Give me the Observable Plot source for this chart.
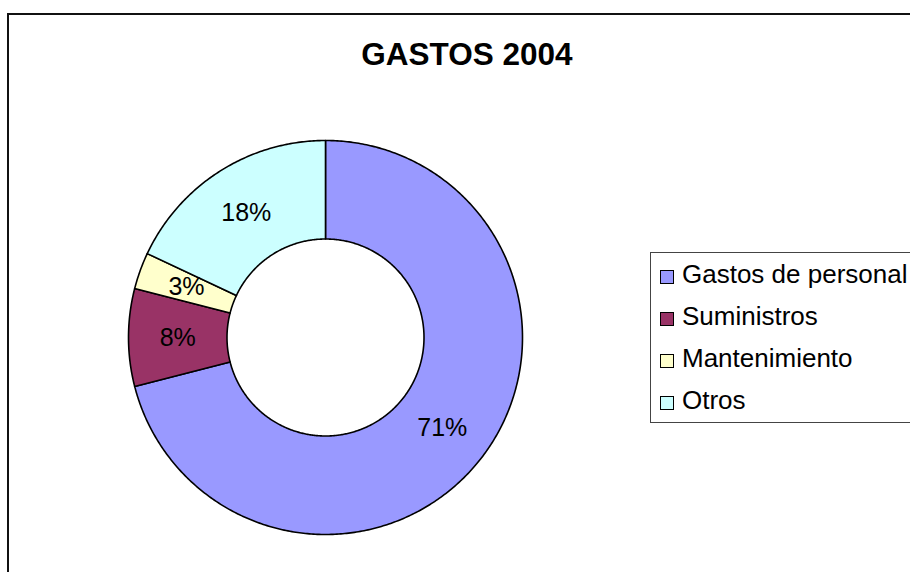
<!DOCTYPE html>
<html>
<head>
<meta charset="utf-8">
<script src="https://cdn.jsdelivr.net/npm/d3@7"></script>
<script src="https://cdn.jsdelivr.net/npm/@observablehq/plot@0.6"></script>
<style>
  html, body { margin: 0; padding: 0; background: #fff; }
  #wrap { position: relative; width: 910px; height: 572px; overflow: hidden; font-family: "Liberation Sans", Arial, sans-serif; }
  #frame { position: absolute; left: 7px; top: 13px; width: 1000px; height: 700px; border: 2px solid #111; box-sizing: border-box; }
  #title { position: absolute; left: 0; top: 39px; width: 934px; text-align: center; font-size: 31.5px; line-height: 31px; font-weight: bold; color: #000; }
  #chart { position: absolute; left: 0; top: 0; }
  #legend { position: absolute; left: 650px; top: 252px; width: 300px; height: 171px; border: 1px solid #444; box-sizing: border-box; }
  .row { display: flex; align-items: center; height: 42px; font-size: 26px; color: #000; white-space: nowrap; }
  .sw { width: 14px; height: 14px; box-sizing: border-box; border: 1.5px solid #000; margin-left: 9px; margin-right: 8px; margin-top: 6px; flex: none; }
</style>
</head>
<body>
<div id="wrap">
  <div id="frame"></div>
  <div id="title"></div>
  <div id="chart"></div>
  <div id="legend"></div>
</div>
<script>
const title = "GASTOS 2004";
const categories = ["Gastos de personal", "Suministros", "Mantenimiento", "Otros"];
const values = [71, 8, 3, 18];
const colors = ["#9999FF", "#993366", "#FFFFCC", "#CCFFFF"];

document.getElementById("title").textContent = title;

const innerRatio = 0.5;
const total = d3.sum(values);
const arcs = d3.pie().sort(null).value(d => d)(values);

// polygon outline for each slice (outer arc, then inner arc back)
const slices = arcs.map((a, i) => {
  const pts = [];
  const n = Math.max(8, Math.ceil((a.endAngle - a.startAngle) / 0.01));
  for (let k = 0; k <= n; k++) {
    const t = a.startAngle + (a.endAngle - a.startAngle) * k / n;
    pts.push({x: Math.sin(t), y: Math.cos(t)});
  }
  for (let k = n; k >= 0; k--) {
    const t = a.startAngle + (a.endAngle - a.startAngle) * k / n;
    pts.push({x: innerRatio * Math.sin(t), y: innerRatio * Math.cos(t)});
  }
  return {cat: categories[i], color: colors[i], pts};
});

const labelR = (1 + innerRatio) / 2;
const labels = arcs.map((a, i) => {
  const m = (a.startAngle + a.endAngle) / 2;
  return {x: labelR * Math.sin(m), y: labelR * Math.cos(m), text: Math.round(values[i] / total * 100) + "%"};
});

const cx = 325, cy = 337, R = 197;
const chart = Plot.plot({
  width: 910,
  height: 572,
  margin: 0,
  style: {background: "transparent", fontFamily: "Liberation Sans, Arial, sans-serif"},
  x: {domain: [-1, 1], range: [cx - R, cx + R], axis: null},
  y: {domain: [-1, 1], range: [cy + R, cy - R], axis: null},
  marks: [
    ...slices.map(s => Plot.line(s.pts, {x: "x", y: "y", fill: s.color, stroke: "#000", strokeWidth: 1.6, curve: "linear-closed"})),
    Plot.text(labels, {x: "x", y: "y", text: "text", fontSize: 25, fill: "#000", textAnchor: "middle", lineAnchor: "middle"})
  ]
});
document.getElementById("chart").appendChild(chart);

const legend = document.getElementById("legend");
categories.forEach((c, i) => {
  const row = document.createElement("div");
  row.className = "row";
  const sw = document.createElement("div");
  sw.className = "sw";
  sw.style.background = colors[i];
  const tx = document.createElement("span");
  tx.textContent = c;
  row.appendChild(sw);
  row.appendChild(tx);
  legend.appendChild(row);
});
</script>
</body>
</html>
